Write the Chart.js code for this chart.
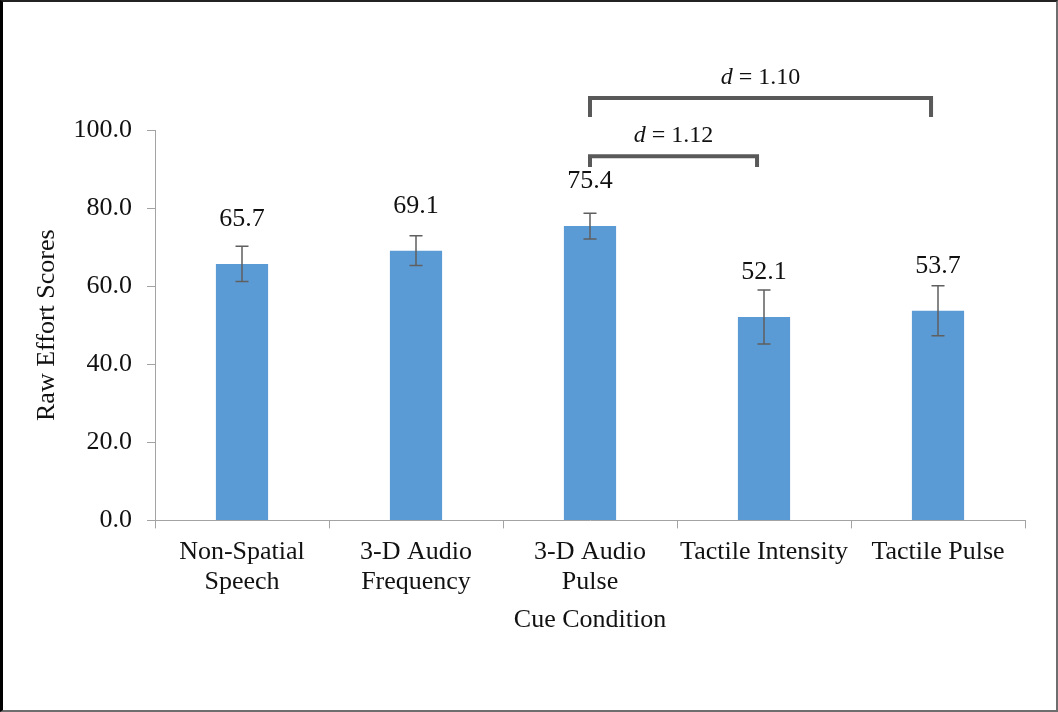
<!DOCTYPE html>
<html>
<head>
<meta charset="utf-8">
<script src="https://cdn.jsdelivr.net/npm/chart.js@4"></script>
<style>
  html, body { margin: 0; padding: 0; background: #fff; }
  #wrap { position: relative; width: 1058px; height: 712px; }
  #c { position: absolute; left: 0; top: 0; }
  #frame {
    position: absolute; left: 0; top: 0; width: 1058px; height: 712px; box-sizing: border-box;
    border-left: 3px solid #000; border-top: 2px solid #222;
    border-right: 2px solid #6e6e6e; border-bottom: 2px solid #6e6e6e;
    pointer-events: none;
  }
</style>
</head>
<body>
<div id="wrap">
  <canvas id="c" width="1058" height="712"></canvas>
  <div id="frame"></div>
</div>
<script>
// Cue conditions and mean raw effort scores with their error margins
const categories = [["Non-Spatial", "Speech"], ["3-D Audio", "Frequency"], ["3-D Audio", "Pulse"], "Tactile Intensity", "Tactile Pulse"];
const effortScores = [65.7, 69.1, 75.4, 52.1, 53.7];
const errorMargins = [4.5, 3.8, 3.3, 6.9, 6.4];
const yTicks = [0, 20, 40, 60, 80, 100];

// Pairwise comparisons (category indices) and their effect sizes
const comparisonFrom = [2, 2];
const comparisonTo = [4, 3];
const effectSizes = ["1.10", "1.12"];

const SERIF = "'Liberation Serif', 'Times New Roman', serif";
const TEXT = "#111";
const AXIS = "#a3a3a3";

// Bracket geometry: bar-end inset (in categories), line level and leg end (in y units)
const bracketStyle = [
  { endInset: 0.04, level: 108.2, legEnd: 103.3 },
  { endInset: 0.04, level: 93.3, legEnd: 90.5 }
];

const annotations = {
  id: "annotations",
  afterDatasetsDraw(chart) {
    const ctx = chart.ctx;
    const x = chart.scales.x, y = chart.scales.y;
    const meta = chart.getDatasetMeta(0);
    ctx.save();
    // error bars
    ctx.strokeStyle = "#5f5f5f";
    ctx.lineWidth = 1.5;
    effortScores.forEach((v, i) => {
      const cx = meta.data[i].x;
      const yTop = y.getPixelForValue(v + errorMargins[i]);
      const yBot = y.getPixelForValue(v - errorMargins[i]);
      ctx.beginPath();
      ctx.moveTo(cx, yTop); ctx.lineTo(cx, yBot);
      ctx.moveTo(cx - 6.5, yTop); ctx.lineTo(cx + 6.5, yTop);
      ctx.moveTo(cx - 6.5, yBot); ctx.lineTo(cx + 6.5, yBot);
      ctx.stroke();
    });
    // value labels
    ctx.fillStyle = TEXT;
    ctx.font = "26px " + SERIF;
    ctx.textAlign = "center";
    ctx.textBaseline = "alphabetic";
    effortScores.forEach((v, i) => {
      const bar = meta.data[i];
      ctx.fillText(v.toFixed(1), bar.x, bar.y - 38);
    });
    // comparison brackets
    ctx.strokeStyle = "#595959";
    ctx.lineWidth = 4;
    ctx.lineCap = "butt";
    ctx.lineJoin = "miter";
    comparisonFrom.forEach((from, k) => {
      const st = bracketStyle[k];
      const x1 = x.getPixelForValue(from);
      const x2 = x.getPixelForValue(comparisonTo[k] - st.endInset);
      const yl = y.getPixelForValue(st.level);
      const ye = y.getPixelForValue(st.legEnd);
      ctx.beginPath();
      ctx.moveTo(x1, ye); ctx.lineTo(x1, yl); ctx.lineTo(x2, yl); ctx.lineTo(x2, ye);
      ctx.stroke();
      // "d = value" label, d in italics
      const italic = "italic 24px " + SERIF;
      const roman = "24px " + SERIF;
      const rest = " = " + effectSizes[k];
      ctx.font = italic; const wd = ctx.measureText("d").width;
      ctx.font = roman; const wr = ctx.measureText(rest).width;
      const start = (x1 + x2) / 2 - (wd + wr) / 2;
      const base = yl - 14;
      ctx.textAlign = "left";
      ctx.font = italic; ctx.fillText("d", start, base);
      ctx.font = roman; ctx.fillText(rest, start + wd, base);
    });
    ctx.restore();
  }
};

new Chart(document.getElementById("c"), {
  type: "bar",
  data: {
    labels: categories,
    datasets: [{
      data: effortScores,
      backgroundColor: "#5B9BD5",
      borderWidth: 0,
      barPercentage: 0.3,
      categoryPercentage: 1.0
    }]
  },
  options: {
    responsive: false,
    animation: false,
    events: [],
    layout: { padding: { left: 32, right: 33, top: 130, bottom: 76 } },
    plugins: { legend: { display: false }, tooltip: { enabled: false } },
    scales: {
      x: {
        grid: { offset: true, drawOnChartArea: false, color: AXIS, tickLength: 8 },
        border: { color: AXIS },
        ticks: {
          font: { family: SERIF, size: 26, lineHeight: 1.154 },
          color: TEXT, padding: 9, maxRotation: 0, minRotation: 0, autoSkip: false
        },
        title: {
          display: true, text: "Cue Condition", color: TEXT, padding: 0,
          font: { family: SERIF, size: 26, lineHeight: 1.2 }
        },
        afterFit(s) { s.height = 115.6; }
      },
      y: {
        min: 0, max: 100,
        afterBuildTicks(s) { s.ticks = yTicks.map(v => ({ value: v })); },
        grid: { drawOnChartArea: false, color: AXIS, tickLength: 8 },
        border: { color: AXIS },
        ticks: {
          font: { family: SERIF, size: 26 }, color: TEXT, padding: 15,
          callback: v => Number(v).toFixed(1)
        },
        title: {
          display: true, text: "Raw Effort Scores", color: TEXT, padding: 0,
          font: { family: SERIF, size: 26, lineHeight: 1.2 }
        },
        afterFit(s) { s.width = 123; }
      }
    }
  },
  plugins: [annotations]
});
</script>
</body>
</html>
